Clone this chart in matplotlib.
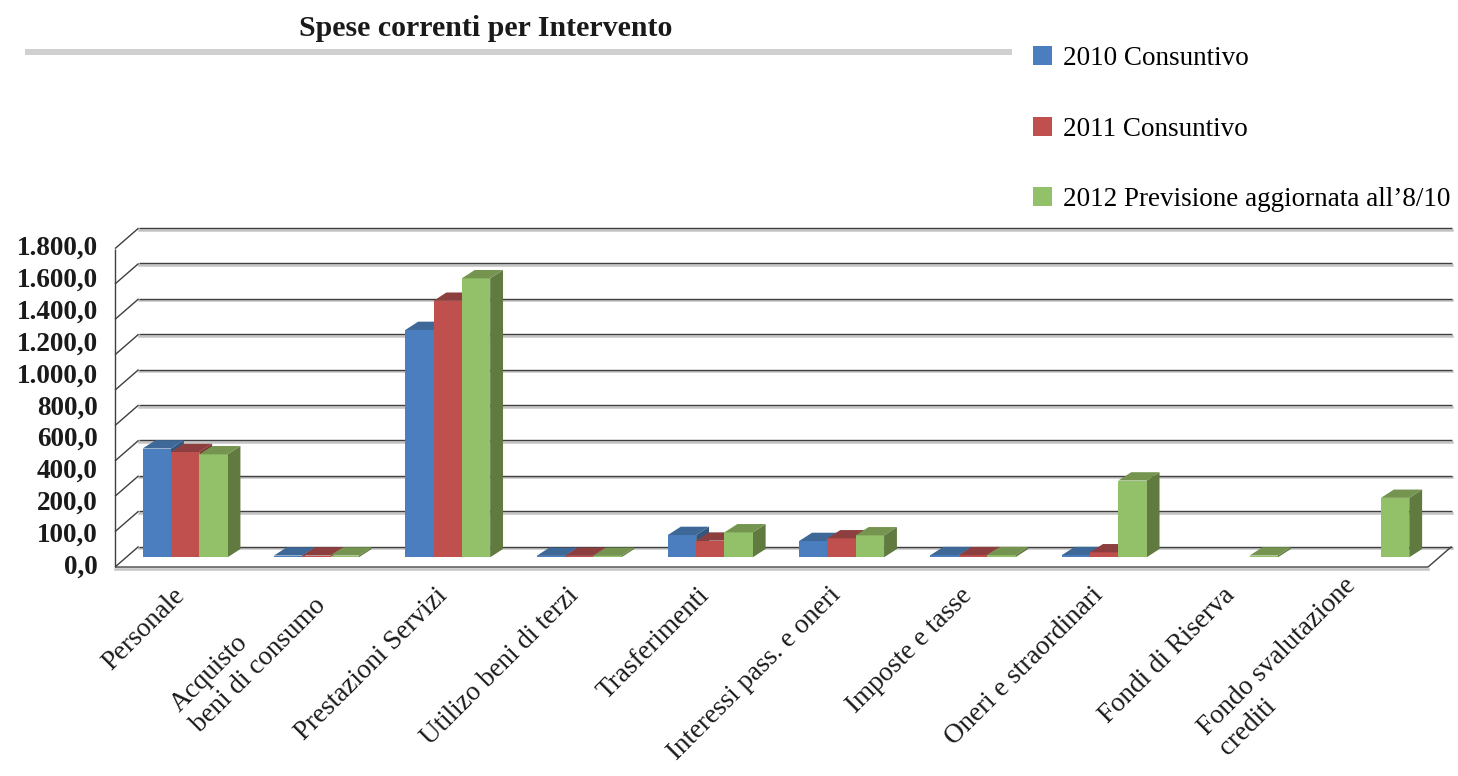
import numpy as np
import matplotlib.pyplot as plt
from matplotlib.patches import Polygon, Rectangle

# dati (migliaia di euro)
categorie = ["Personale", "Acquisto\nbeni di consumo", "Prestazioni Servizi",
             "Utilizo beni di terzi", "Trasferimenti", "Interessi pass. e oneri",
             "Imposte e tasse", "Oneri e straordinari", "Fondi di Riserva",
             "Fondo svalutazione\ncrediti"]
serie = ["2010 Consuntivo", "2011 Consuntivo", "2012 Previsione aggiornata all\u20198/10"]
v2010 = [615, 10, 1285, 8, 126, 92, 12, 12, 0, 0]
v2011 = [595, 10, 1450, 8, 94, 107, 12, 28, 0, 0]
v2012 = [582, 10, 1577, 8, 141, 124, 12, 434, 10, 336]
etichette_y = ["0,0", "100,0", "200,0", "400,0", "600,0", "800,0",
               "1.000,0", "1.200,0", "1.400,0", "1.600,0", "1.800,0"]
griglia = np.arange(0, 1801, 200)

# colori: fronte, cima, lato
col_fronte = ["#4A7EBF", "#C0504D", "#93C16A"]
col_cima = ["#3D6898", "#8C3F3E", "#74944F"]
col_lato = ["#33577F", "#7E3533", "#607A40"]

plt.rcParams['font.family'] = ['Liberation Serif', 'DejaVu Serif']

fig = plt.figure(figsize=(14.58, 7.76), dpi=100)
ax = fig.add_axes([0, 0, 1, 1])
# 1 categoria = 131.3 px, 1 unita' = 0.1769 px
ax.set_xlim(-115 / 131.3, (1458 - 115) / 131.3)
ax.set_ylim((557.3 - 776) / 0.1769, 557.3 / 0.1769)
ax.axis('off')

n = len(categorie)
# profondita' pareti e barre (in unita' dati)
DXW, YF, YB = 0.18, -55, 61
ddx, ddy = 0.098, 47
w = 0.2155
scarto = 0.034

linea = dict(color='#3f3f3f', lw=1.0, zorder=2, solid_capstyle='butt')
ombra = dict(color='#c4c4c4', lw=1.8, zorder=1)

# parete di fondo + parete laterale
for g in griglia:
    ax.plot([DXW, n + DXW], [g + YB - 9, g + YB - 9], **ombra)
    ax.plot([DXW, n + DXW], [g + YB, g + YB], **linea)
    ax.plot([0, DXW], [g + YF, g + YB], **linea)
ax.plot([0, 0], [YF, griglia[-1] + YF], **linea)
# pavimento
ax.plot([0, n], [YF - 9, YF - 9], **ombra)
ax.plot([0, n, n + DXW], [YF, YF, YB], **linea)

# barre pseudo-3D
valori = [v2010, v2011, v2012]
x = np.arange(n) + 0.5 + scarto
for s, vals in enumerate(valori):
    barre = ax.bar(x + (s - 1) * w, vals, w, color=col_fronte[s], linewidth=0,
                   label=serie[s])
    for i, (r, h) in enumerate(zip(barre.patches, vals)):
        z = 10 + 3 * (i * 3 + s)
        if h <= 0:
            r.set_visible(False)
            continue
        x0, x1 = r.get_x(), r.get_x() + w
        ax.add_patch(Polygon([(x1, 0), (x1 + ddx, ddy), (x1 + ddx, h + ddy), (x1, h)],
                             closed=True, fc=col_lato[s], ec='none', zorder=z))
        r.set_zorder(z + 1)
        ax.add_patch(Polygon([(x0, h), (x1, h), (x1 + ddx, h + ddy), (x0 + ddx, h + ddy)],
                             closed=True, fc=col_cima[s], ec='none', zorder=z + 2))

# etichette asse y (equispaziate come nell'originale)
ypos = np.linspace(YF, griglia[-1] + YF, len(etichette_y))
for yy, t in zip(ypos, etichette_y):
    ax.text(-0.13, yy, t, ha='right', va='center', fontsize=19.5, fontweight='bold',
            color='#1a1a1a')

# etichette categorie
for i, c in enumerate(categorie):
    ax.text(i + 0.5, -195, c, rotation=45, rotation_mode='anchor', ha='right',
            va='center', multialignment='left', fontsize=19.5, color='#1a1a1a')

# titolo e barra grigia
fig.text(486 / 1458, 1 - 28 / 776, "Spese correnti per Intervento", ha='center',
         va='center', fontsize=21.5, fontweight='bold', color='#1a1a1a')
fig.add_artist(Rectangle((25 / 1458, 1 - 55 / 776), (1012 - 25) / 1458, 6 / 776,
                         transform=fig.transFigure, fc='#d0d0d0', ec='none'))

# legenda
ax.legend(loc='upper left', bbox_to_anchor=(1033 / 1458, 1 - 46 / 776),
          bbox_transform=fig.transFigure, frameon=False, fontsize=19.5,
          labelspacing=1.68, handlelength=0.7, handleheight=0.7,
          handletextpad=0.4, borderaxespad=0, borderpad=0)

fig.savefig("out.png", dpi=100)
